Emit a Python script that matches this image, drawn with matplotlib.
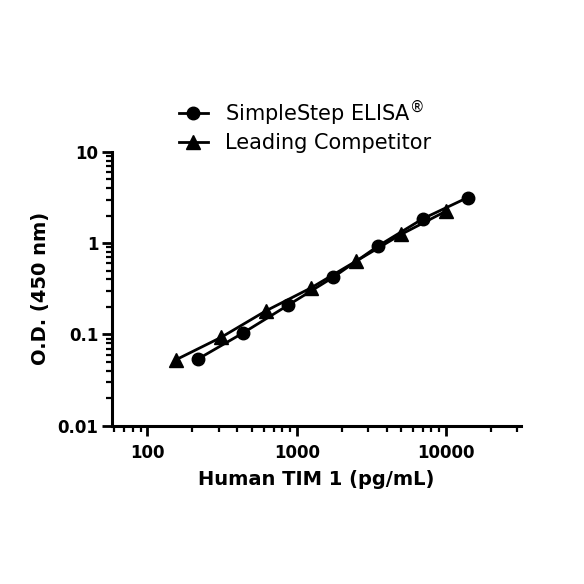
import numpy as np
import matplotlib
matplotlib.use("Agg")
import matplotlib.pyplot as plt
from matplotlib.ticker import LogLocator, NullFormatter, FixedLocator, FixedFormatter

# SimpleStep ELISA standard curve
simplestep_conc = [219, 438, 875, 1750, 3500, 7000, 14000]
simplestep_od = [0.054, 0.104, 0.209, 0.421, 0.927, 1.85, 3.16]

# Leading competitor standard curve
competitor_conc = [156, 312, 625, 1250, 2500, 5000, 10000]
competitor_od = [0.053, 0.093, 0.182, 0.324, 0.635, 1.245, 2.24]

x_ticks = [100, 1000, 10000]
x_tick_labels = ["100", "1000", "10000"]
y_ticks = [0.01, 0.1, 1, 10]
y_tick_labels = ["0.01", "0.1", "1", "10"]

plt.rcParams['font.family'] = ['DejaVu Sans']

fig = plt.figure(figsize=(5.84, 5.84), dpi=100)
ax = fig.add_axes([0.192, 0.271, 0.700, 0.469])

l1, = ax.plot(simplestep_conc, simplestep_od, color='black', lw=2, marker='o',
              markersize=9, label=r"SimpleStep ELISA$^{\circledR}$")
l2, = ax.plot(competitor_conc, competitor_od, color='black', lw=2, marker='^',
              markersize=9.5, label="Leading Competitor")

ax.set_xscale('log')
ax.set_yscale('log')
ax.set_xlim(58, 31800)
ax.set_ylim(0.01, 10)

ax.xaxis.set_major_locator(FixedLocator(x_ticks))
ax.xaxis.set_major_formatter(FixedFormatter(x_tick_labels))
ax.yaxis.set_major_locator(FixedLocator(y_ticks))
ax.yaxis.set_major_formatter(FixedFormatter(y_tick_labels))
ax.xaxis.set_minor_locator(LogLocator(base=10, subs=np.arange(2, 10), numticks=20))
ax.yaxis.set_minor_locator(LogLocator(base=10, subs=np.arange(2, 10), numticks=20))
ax.xaxis.set_minor_formatter(NullFormatter())
ax.yaxis.set_minor_formatter(NullFormatter())

for side in ['top', 'right']:
    ax.spines[side].set_visible(False)
for side in ['left', 'bottom']:
    ax.spines[side].set_linewidth(2.2)

ax.tick_params(which='major', direction='out', length=7, width=2, labelsize=12)
ax.tick_params(axis='x', which='major', pad=6)
ax.tick_params(axis='y', which='major', pad=3)
ax.tick_params(which='minor', direction='out', length=4, width=1.6)
for lbl in ax.get_xticklabels() + ax.get_yticklabels():
    lbl.set_fontweight('bold')

ax.set_xlabel("Human TIM 1 (pg/mL)", fontsize=14, fontweight='bold', labelpad=6)
ax.set_ylabel("O.D. (450 nm)", fontsize=14, fontweight='bold', labelpad=5)

fig.legend(handles=[l1, l2], loc='center left', bbox_to_anchor=(0.292, 0.785),
           frameon=False, fontsize=15, handlelength=1.4, handletextpad=0.8,
           labelspacing=0.25, borderaxespad=0)

fig.savefig("out.png", dpi=100)
